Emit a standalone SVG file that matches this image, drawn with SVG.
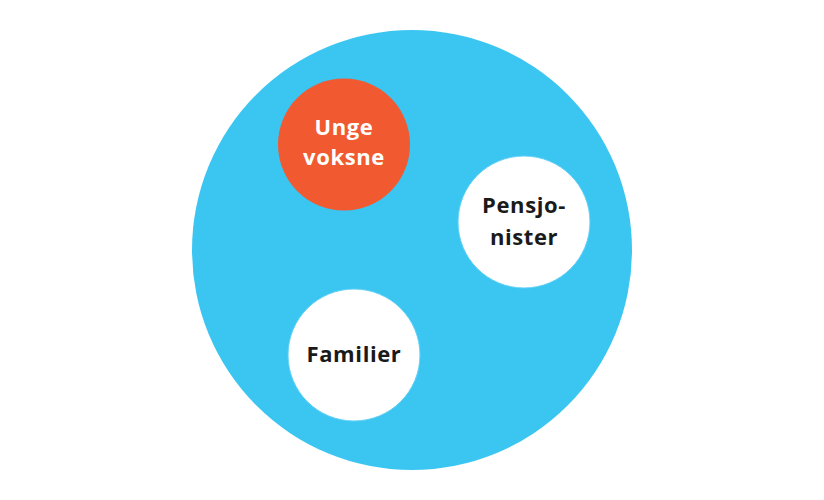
<svg xmlns="http://www.w3.org/2000/svg" width="824" height="500" viewBox="0 0 824 500">
<style>
.lbl{font-family:"Open Sans","Lato","Liberation Sans",sans-serif;font-weight:700;font-size:22px;text-anchor:middle;letter-spacing:0.6px}
.white{fill:#ffffff;stroke:#5fd0f5;stroke-width:1}
</style>
<rect width="824" height="500" fill="#ffffff"/>
<g id="outer"><circle cx="412" cy="250" r="220" fill="#3bc6f2"/></g>
<g id="connectors"/>
<g id="unge-voksne">
<circle cx="344" cy="144.5" r="66" fill="#f15a31"/>
<text class="lbl" x="344" y="135" fill="#ffffff">Unge</text>
<text class="lbl" x="344" y="165" fill="#ffffff">voksne</text>
</g>
<g id="pensjonister">
<circle class="white" cx="524" cy="222" r="66"/>
<text class="lbl" x="524" y="213" fill="#1a1a1a">Pensjo-</text>
<text class="lbl" x="524" y="245" fill="#1a1a1a">nister</text>
</g>
<g id="familier">
<circle class="white" cx="354" cy="355" r="66"/>
<text class="lbl" x="354" y="362" fill="#1a1a1a">Familier</text>
</g>
</svg>
